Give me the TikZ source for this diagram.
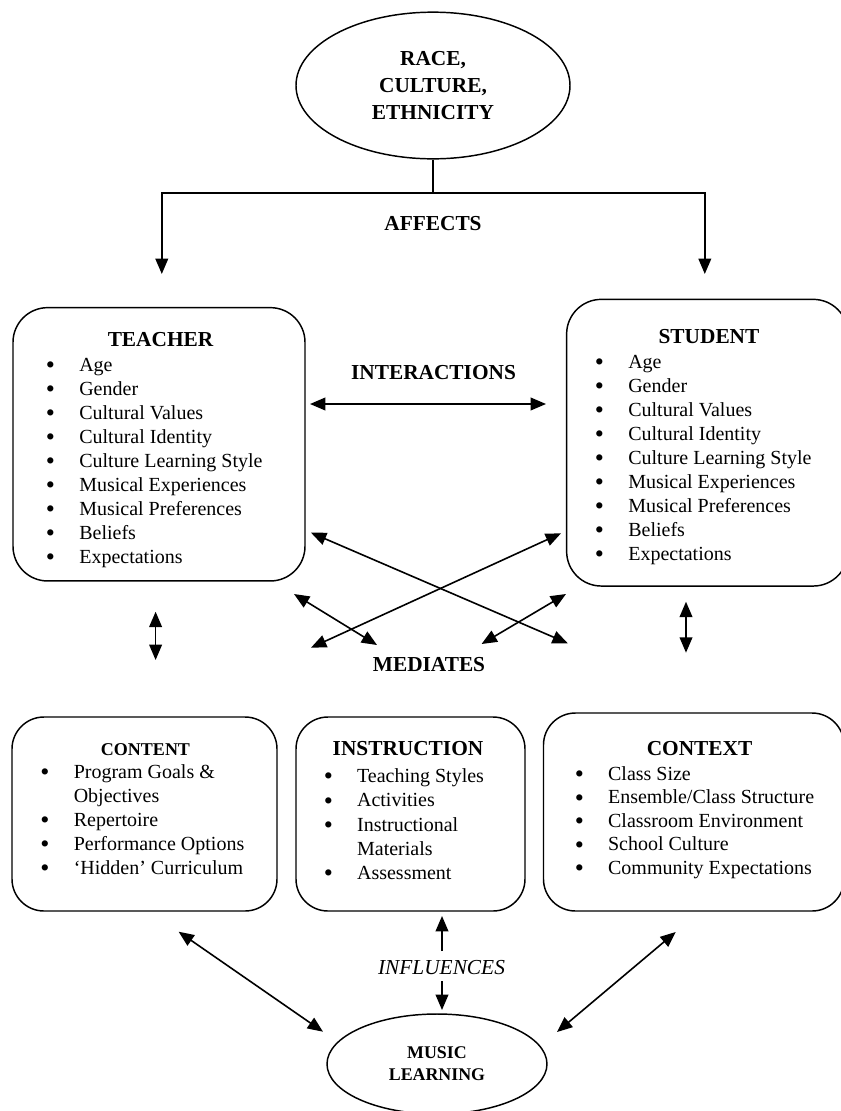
\documentclass[tikz,border=0pt]{standalone}
\usepackage{fontspec}
\setmainfont{Liberation Serif}
\usetikzlibrary{arrows.meta,shapes.geometric,positioning}
\tikzset{
	%Define standard arrow tip
	>={Triangle[length=11.5pt,width=9.5pt]},
	%Define style for boxes
	kasse/.style={
		rectangle,
		rounded corners=26pt,
		draw=black, line width=1.1pt,
		inner sep=0pt},
	oval/.style={
		ellipse,
		draw=black, line width=1.1pt,
		inner sep=0pt,
		align=center},
	titel/.style={
		anchor=base,
		inner sep=0pt,
		font=\fontsize{16}{20}\selectfont\bfseries},
	liste/.style={
		anchor=base west,
		inner sep=0pt,
		font=\fontsize{15}{#1}\selectfont},
	liste/.default=18,
	% Define arrow style
	pil/.style={
		line width=1.2pt}
}
\newcommand{\pkt}[1]{\makebox[25pt][l]{\raisebox{-1.6pt}{\scalebox{1.3}{\textbullet}}}#1}
\newcommand{\fort}[1]{\hspace*{25pt}#1}

\begin{document}
\begin{tikzpicture}[x=0.75pt, y=-0.75pt]
	\useasboundingbox (0,0) rectangle (841,1111);
	%nodes
	\node[oval, minimum width=205.5pt, minimum height=110pt,
		font=\fontsize{16}{20}\selectfont\bfseries] (race) at (433,85.5)
		{RACE,\\CULTURE,\\ETHNICITY};
	\node[titel] (affects) at (433,230) {AFFECTS};
	% teacher and student
	\node[kasse, minimum width=219pt, minimum height=205pt] (teacher) at (159,444.3) {};
	\node[titel] (teachhead) at (160.5,346.7) {TEACHER};
	\node[liste] (teachlist) at (45.7,371) {\begin{tabular}[t]{@{}l@{}}
		\pkt{Age}\\ \pkt{Gender}\\ \pkt{Cultural Values}\\ \pkt{Cultural Identity}\\
		\pkt{Culture Learning Style}\\ \pkt{Musical Experiences}\\
		\pkt{Musical Preferences}\\ \pkt{Beliefs}\\ \pkt{Expectations}
		\end{tabular}};
	\node[kasse, minimum width=211pt, minimum height=215pt] (student) at (707.3,442.7) {};
	\node[titel] (studhead) at (709,343.3) {STUDENT};
	\node[liste] (studlist) at (594.7,368.3) {\begin{tabular}[t]{@{}l@{}}
		\pkt{Age}\\ \pkt{Gender}\\ \pkt{Cultural Values}\\ \pkt{Cultural Identity}\\
		\pkt{Culture Learning Style}\\ \pkt{Musical Experiences}\\
		\pkt{Musical Preferences}\\ \pkt{Beliefs}\\ \pkt{Expectations}
		\end{tabular}};
	\node[titel] (interact) at (433.5,379) {INTERACTIONS};
	\node[titel] (mediates) at (429,671.7) {MEDIATES};
	% content, instruction, context
	\node[kasse, rounded corners=24pt, minimum width=198.75pt, minimum height=145.5pt] (content) at (144.5,814) {};
	\node[titel, font=\fontsize{13.5}{16}\selectfont\bfseries] (conthead) at (145.5,755) {CONTENT};
	\node[liste] (contlist) at (40.2,778.3) {\begin{tabular}[t]{@{}l@{}}
		\pkt{Program Goals \&}\\ \fort{Objectives}\\ \pkt{Repertoire}\\
		\pkt{Performance Options}\\ \pkt{`Hidden' Curriculum}
		\end{tabular}};
	\node[kasse, rounded corners=24pt, minimum width=171.75pt, minimum height=145.5pt] (instruction) at (410.5,814) {};
	\node[titel] (insthead) at (408,755) {INSTRUCTION};
	\node[liste=18.2] (instlist) at (323.5,782.7) {\begin{tabular}[t]{@{}l@{}}
		\pkt{Teaching Styles}\\ \pkt{Activities}\\ \pkt{Instructional}\\
		\fort{Materials}\\ \pkt{Assessment}
		\end{tabular}};
	\node[kasse, rounded corners=24pt, minimum width=225.4pt, minimum height=148.5pt] (context) at (693.75,812) {};
	\node[titel] (conxhead) at (699.5,755) {CONTEXT};
	\node[liste=17.6] (conxlist) at (574.5,780.5) {\begin{tabular}[t]{@{}l@{}}
		\pkt{Class Size}\\ \pkt{Ensemble/Class Structure}\\ \pkt{Classroom Environment}\\
		\pkt{School Culture}\\ \pkt{Community Expectations}
		\end{tabular}};
	% music learning
	\node[titel, font=\fontsize{16}{20}\selectfont\itshape] (influences) at (441.5,974) {INFLUENCES};
	\node[oval, minimum width=165pt, minimum height=75pt,
		font=\fontsize{13.4}{16.5}\selectfont\bfseries] (music) at (437,1064)
		{MUSIC\\LEARNING};
	% free ends of the arrows
	\coordinate (split) at (433,192.7);
	\coordinate (tin) at (161.8,274);
	\coordinate (sin) at (704.8,274);
	\coordinate (ia) at (310,404);
	\coordinate (ib) at (546,404);
	\coordinate (xa1) at (311,532.7);
	\coordinate (xa2) at (567.8,643.3);
	\coordinate (xb1) at (561,533.3);
	\coordinate (xb2) at (311,647.7);
	\coordinate (xc1) at (294,594);
	\coordinate (xc2) at (377,645);
	\coordinate (xd1) at (566,594);
	\coordinate (xd2) at (481.6,644);
	\coordinate (tv1) at (155.6,611.7);
	\coordinate (tv2) at (155.6,660);
	\coordinate (sv1) at (686,601.7);
	\coordinate (sv2) at (686,652.7);
	\coordinate (up1) at (442,951);
	\coordinate (up2) at (442,916);
	\coordinate (dn1) at (442,981);
	\coordinate (dn2) at (442,1010);
	\coordinate (la1) at (178.6,931.7);
	\coordinate (la2) at (323,1031.7);
	\coordinate (ra1) at (675.7,932);
	\coordinate (ra2) at (557,1032);
	% arrows
	\draw[pil] (race.south) -- (split);
	\draw[pil,->] (split) -| (tin);
	\draw[pil,->] (split) -| (sin);
	\draw[pil,<->] (ia) -- (ib);
	\draw[pil,<->] (xa1) -- (xa2);
	\draw[pil,<->] (xb1) -- (xb2);
	\draw[pil,<->] (xc1) -- (xc2);
	\draw[pil,<->] (xd1) -- (xd2);
	\draw[pil,<->] (tv1) -- (tv2);
	\draw[pil,<->] (sv1) -- (sv2);
	\draw[pil,->] (up1) -- (up2);
	\draw[pil,->] (dn1) -- (dn2);
	\draw[pil,<->] (la1) -- (la2);
	\draw[pil,<->] (ra1) -- (ra2);
\end{tikzpicture}
\end{document}
